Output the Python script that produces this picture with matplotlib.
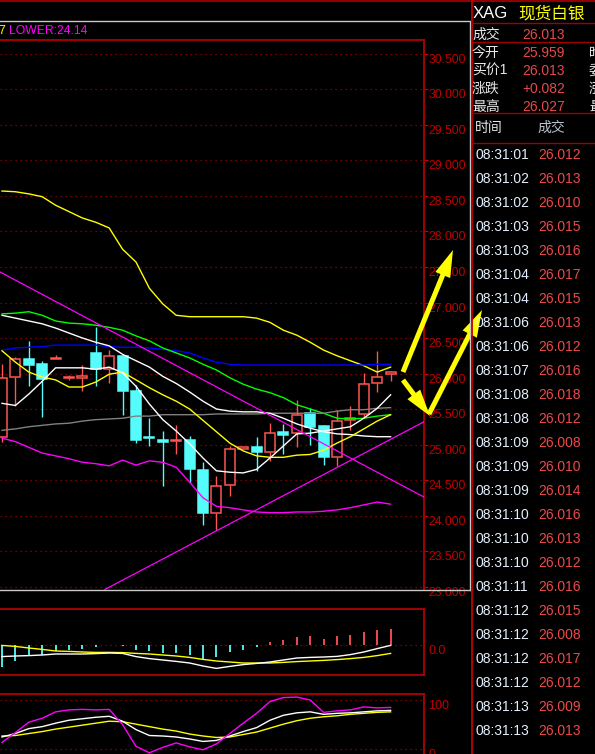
import numpy as np
import matplotlib
matplotlib.use("Agg")
import matplotlib.pyplot as plt
from matplotlib.patches import Rectangle, FancyArrow

plt.rcParams['font.family'] = ['Liberation Sans', 'Noto Sans CJK SC']

# ---- candles (oldest first) ----
opens  = [25.11, 25.95, 26.20, 26.13, 26.20, 25.93, 25.94, 26.29, 26.06, 26.24,
          25.76, 25.11, 25.07, 25.05, 25.06, 24.64, 24.03, 24.43, 24.94, 24.96,
          24.90, 25.17, 25.16, 25.44, 25.26, 24.83, 25.34, 25.43, 25.86, 25.99]
closes = [25.93, 26.21, 26.12, 25.92, 26.22, 25.95, 25.97, 26.06, 26.25, 25.76,
          25.07, 25.09, 25.03, 25.07, 24.66, 24.03, 24.41, 24.94, 24.96, 24.90,
          25.16, 25.14, 25.41, 25.25, 24.83, 25.33, 25.37, 25.85, 25.95, 26.02]
highs  = [26.14, 26.23, 26.46, 26.18, 26.26, 25.98, 26.12, 26.65, 26.33, 26.26,
          25.84, 25.38, 25.19, 25.27, 25.12, 24.76, 24.55, 24.98, 24.97, 25.10,
          25.30, 25.29, 25.63, 25.51, 25.28, 25.49, 25.54, 26.01, 26.32, 26.03]
lows   = [25.04, 25.54, 25.83, 25.39, 26.20, 25.91, 25.76, 25.83, 25.87, 25.42,
          25.02, 24.98, 24.42, 24.87, 24.46, 23.87, 23.79, 24.27, 24.94, 24.63,
          24.77, 24.86, 24.97, 24.99, 24.71, 24.70, 25.20, 25.37, 25.74, 25.89]

# ---- overlay lines on the price panel ----
upper_yellow = [28.57, 28.56, 28.53, 28.49, 28.37, 28.28, 28.19, 28.13, 28.05, 27.75,
                27.57, 27.20, 26.98, 26.82, 26.80, 26.80, 26.80, 26.80, 26.80, 26.78,
                26.72, 26.61, 26.54, 26.44, 26.33, 26.25, 26.18, 26.11, 26.02, 26.09]
lower_band = [25.09, 25.04, 24.96, 24.88, 24.84, 24.80, 24.75, 24.73, 24.70, 24.78,
              24.71, 24.77, 24.75, 24.68, 24.47, 24.25, 24.13, 24.11, 24.08, 24.05,
              24.04, 24.04, 24.05, 24.05, 24.06, 24.08, 24.11, 24.15, 24.19, 24.16]
ma_blue = [26.33, 26.36, 26.37, 26.38, 26.40, 26.40, 26.40, 26.40, 26.38, 26.37,
           26.37, 26.36, 26.34, 26.32, 26.29, 26.22, 26.16, 26.13, 26.12, 26.12,
           26.12, 26.12, 26.12, 26.12, 26.12, 26.12, 26.12, 26.12, 26.13, 26.13]
ma_green = [26.84, 26.85, 26.87, 26.82, 26.74, 26.71, 26.70, 26.68, 26.65, 26.61,
            26.53, 26.46, 26.36, 26.29, 26.22, 26.13, 26.05, 25.94, 25.85, 25.78,
            25.73, 25.66, 25.56, 25.50, 25.44, 25.37, 25.36, 25.37, 25.40, 25.42]
ma_white_long = [26.82, 26.78, 26.74, 26.70, 26.64, 26.57, 26.50, 26.44, 26.39, 26.27,
                 26.18, 26.09, 25.96, 25.86, 25.74, 25.61, 25.50, 25.47, 25.46, 25.46,
                 25.44, 25.37, 25.29, 25.23, 25.18, 25.15, 25.14, 25.12, 25.11, 25.11]
ma_white_short = [25.58, 25.55, 25.71, 25.89, 26.08, 26.08, 26.08, 26.06, 26.09, 26.01,
                  25.82, 25.57, 25.35, 25.19, 25.01, 24.81, 24.63, 24.61, 24.60, 24.65,
                  24.81, 24.98, 25.15, 25.16, 25.19, 25.22, 25.25, 25.37, 25.51, 25.70]
ma_yellow = [26.32, 26.16, 26.02, 25.95, 25.91, 25.81, 25.81, 25.88, 25.99, 26.02,
             25.91, 25.80, 25.70, 25.61, 25.50, 25.34, 25.18, 25.02, 24.91, 24.84,
             24.82, 24.82, 24.85, 24.86, 24.92, 25.02, 25.11, 25.22, 25.33, 25.42]
ma_gray = [25.20, 25.22, 25.25, 25.27, 25.29, 25.30, 25.33, 25.35, 25.36, 25.37,
           25.40, 25.40, 25.42, 25.42, 25.42, 25.42, 25.43, 25.43, 25.43, 25.43,
           25.44, 25.44, 25.44, 25.44, 25.44, 25.47, 25.49, 25.49, 25.51, 25.52]

# hand drawn trend lines (bar index, price)
trend_down_x, trend_down_y = [-0.15, 31.49], [27.43, 24.26]
trend_up_x, trend_up_y = [7.69, 31.49], [22.96, 25.32]

price_levels = [23.0, 23.5, 24.0, 24.5, 25.0, 25.5, 26.0, 26.5,
                27.0, 27.5, 28.0, 28.5, 29.0, 29.5, 30.0, 30.5]

# ---- MACD ----
macd_hist = [-0.110, -0.082, -0.057, -0.050, -0.032, -0.024, -0.019, -0.009, -0.001, -0.004,
             -0.024, -0.032, -0.042, -0.039, -0.050, -0.070, -0.062, -0.037, -0.024, -0.009,
             0.014, 0.024, 0.039, 0.044, 0.032, 0.044, 0.049, 0.064, 0.074, 0.082]
macd_dif = [-0.058, -0.055, -0.053, -0.050, -0.045, -0.045, -0.045, -0.043, -0.040, -0.042,
            -0.058, -0.068, -0.075, -0.082, -0.090, -0.105, -0.117, -0.107, -0.098, -0.092,
            -0.085, -0.075, -0.065, -0.062, -0.060, -0.057, -0.048, -0.035, -0.018, -0.002]
macd_dea = [-0.002, -0.007, -0.015, -0.022, -0.030, -0.032, -0.035, -0.037, -0.037, -0.038,
            -0.042, -0.045, -0.050, -0.055, -0.062, -0.072, -0.080, -0.085, -0.090, -0.090,
            -0.090, -0.087, -0.083, -0.080, -0.077, -0.073, -0.068, -0.062, -0.053, -0.042]

# ---- KDJ ----
kdj_k = [25, 32, 42, 46, 53, 59, 62, 65, 67, 57, 40, 28, 27, 25, 21,
         16, 18, 27, 36, 44, 59, 69, 74, 76, 71, 73, 74, 76, 78, 79]
kdj_d = [27, 28, 32, 36, 41, 45, 49, 53, 57, 56, 51, 46, 41, 37, 31,
         27, 24, 25, 30, 35, 43, 51, 58, 63, 66, 68, 71, 73, 75, 76]
kdj_j = [14, 34, 55, 63, 76, 80, 81, 80, 81, 50, 6, -7, 4, 13, 5,
         -1, 11, 32, 53, 73, 97, 105, 106, 100, 75, 78, 80, 86, 84, 85]

# ---- quote panel ----
info_labels = ['成交', '今开', '买价1', '涨跌', '最高']
info_values = ['26.013', '25.959', '26.013', '+0.082', '26.027']
info_side = ['', '昨收', '委比', '涨幅', '最低']
tick_times = ['08:31:01', '08:31:02', '08:31:02', '08:31:03', '08:31:03', '08:31:04',
              '08:31:04', '08:31:06', '08:31:06', '08:31:07', '08:31:08', '08:31:08',
              '08:31:09', '08:31:09', '08:31:09', '08:31:10', '08:31:10', '08:31:10',
              '08:31:11', '08:31:12', '08:31:12', '08:31:12', '08:31:12', '08:31:13',
              '08:31:13']
tick_prices = ['26.012', '26.013', '26.010', '26.015', '26.016', '26.017', '26.015',
               '26.013', '26.012', '26.016', '26.018', '26.012', '26.008', '26.010',
               '26.014', '26.016', '26.013', '26.012', '26.016', '26.015', '26.008',
               '26.017', '26.012', '26.009', '26.013']

W, H = 595, 754
RED = '#c00000'
GRID = '#a00000'
UP = '#ff5454'
DOWN = '#54fcfc'
YEL = '#ffff00'
MAG = '#ff00ff'
dots = (0, (1, 3))

fig = plt.figure(figsize=(W / 100, H / 100), dpi=100, facecolor='black')


def box(x0, y0, x1, y1):
    return [x0 / W, 1 - y1 / H, (x1 - x0) / W, (y1 - y0) / H]


def style_panel(a, spines):
    a.set_facecolor('black')
    for s in ['left', 'right', 'top', 'bottom']:
        a.spines[s].set_visible(s in spines)
        a.spines[s].set_color(RED)
        a.spines[s].set_linewidth(1.2)
    a.set_xticks([])
    a.set_yticks([])
    a.set_xlim(-2 / 13.4, 422 / 13.4)


idx = np.arange(len(opens))

# ================= price panel =================
ax = fig.add_axes(box(0, 40, 424, 590))
style_panel(ax, ['top', 'right'])
ax.set_ylim(22.951, 30.697)
ax.yaxis.tick_right()
ax.set_yticks(price_levels)
ax.tick_params(axis='y', colors=RED, length=3, labelright=False)
for lv in price_levels:
    ax.axhline(lv, color=GRID, ls=dots, lw=0.9)
    ax.text(1.01, lv, f'{lv:.3f}', transform=ax.get_yaxis_transform(),
            color=RED, fontsize=8.8, va='top', ha='left', clip_on=False)

bw = 0.74
for i in idx:
    o, h, l, c = opens[i], highs[i], lows[i], closes[i]
    if c >= o:
        ax.vlines(i, c, h, color=UP, lw=1)
        ax.vlines(i, l, o, color=UP, lw=1)
        ax.add_patch(Rectangle((i - bw / 2, o), bw, c - o, fc='black', ec=UP, lw=1.1, zorder=2))
    else:
        ax.vlines(i, l, h, color=DOWN, lw=1)
        ax.add_patch(Rectangle((i - bw / 2, c), bw, o - c, fc=DOWN, ec=DOWN, lw=1.1, zorder=2))

ax.plot(idx, upper_yellow, color=YEL, lw=1, zorder=3)
ax.plot(idx, lower_band, color=MAG, lw=1, zorder=3)
ax.plot(idx, ma_blue, color='#0000ff', lw=1, zorder=3)
ax.plot(idx, ma_green, color='#00ff00', lw=1, zorder=3)
ax.plot(idx, ma_gray, color='#808080', lw=1, zorder=3)
ax.plot(idx, ma_white_long, color='white', lw=1, zorder=3)
ax.plot(idx, ma_yellow, color=YEL, lw=1, zorder=3)
ax.plot(idx, ma_white_short, color='white', lw=1, zorder=3)
ax.plot(trend_down_x, trend_down_y, color=MAG, lw=0.9, zorder=3)
ax.plot(trend_up_x, trend_up_y, color=MAG, lw=0.9, zorder=3)

# ================= MACD panel =================
am = fig.add_axes(box(0, 609, 424, 675))
style_panel(am, ['top', 'right', 'bottom'])
am.set_ylim(-0.15, 0.18)
am.axhline(0, color=GRID, ls=dots, lw=0.9)
for i in idx:
    v = macd_hist[i]
    am.vlines(i, 0, v, color=UP if v > 0 else DOWN, lw=1.3)
am.plot(idx, macd_dea, color=YEL, lw=1)
am.plot(idx, macd_dif, color='white', lw=1)
am.text(1.01, 0.0, '0.0', transform=am.get_yaxis_transform(), color=RED,
        fontsize=9, va='top', ha='left', clip_on=False)

# ================= KDJ panel =================
ak = fig.add_axes(box(0, 694, 424, 754))
style_panel(ak, ['top', 'right'])
ak.set_ylim(-9.5, 112.2)
for lv in (0, 100):
    ak.axhline(lv, color=GRID, ls=dots, lw=0.9)
    ak.text(1.01, lv, str(lv), transform=ak.get_yaxis_transform(), color=RED,
            fontsize=9, va='top', ha='left', clip_on=False)
ak.plot(idx, kdj_d, color=YEL, lw=1)
ak.plot(idx, kdj_k, color='white', lw=1)
ak.plot(idx, kdj_j, color=MAG, lw=1)

# ================= frame, header and quote panel =================
ov = fig.add_axes([0, 0, 1, 1])
ov.set_xlim(0, W)
ov.set_ylim(H, 0)
ov.axis('off')
ov.patch.set_alpha(0)

ov.plot([0, W], [1, 1], color='#900000', lw=1.5)
ov.plot([0, 470, 470], [21, 21, 590], color='#c8c8c8', lw=1)
ov.plot([0, 470], [590, 590], color='#c8c8c8', lw=1)
ov.plot([471.5, 471.5], [0, H], color=RED, lw=1.3)
for yy in (23, 42, 113, 143):
    ov.plot([471.5, W], [yy, yy], color=GRID, lw=1)

ov.text(-2, 30.5, '7', color=YEL, fontsize=8.7, va='center', ha='left')
ov.text(9, 30.5, 'LOWER:24.14', color=MAG, fontsize=8.7, va='center', ha='left')

ov.text(473, 14, 'XAG', color='white', fontsize=12, va='center', ha='left')
ov.text(518, 14, '现货白银', color=YEL, fontsize=12, va='center', ha='left',
        family='Noto Sans CJK SC')

for k, (lab, val, side) in enumerate(zip(info_labels, info_values, info_side)):
    yy = 35 if k == 0 else 53 + 18 * (k - 1)
    ov.text(472, yy, lab, color='#e8e8e8', fontsize=10, va='center', ha='left')
    ov.text(522, yy, val, color='#e84848', fontsize=10, va='center', ha='left')
    if side:
        ov.text(589, yy, side, color='#e8e8e8', fontsize=10, va='center', ha='left')

ov.text(475, 128, '时间', color='#e8e8e8', fontsize=10, va='center', ha='left')
ov.text(537, 128, '成交', color='#b8c4d0', fontsize=10, va='center', ha='left')
for k, (t, p) in enumerate(zip(tick_times, tick_prices)):
    yy = 155 + 24 * k
    ov.text(475, yy, t, color='#e4f0ff', fontsize=10, va='center', ha='left')
    ov.text(538, yy, p, color='#f04848', fontsize=10, va='center', ha='left')

# yellow annotation arrows
arrow_kw = dict(color=YEL, width=5, head_width=16, head_length=27,
                length_includes_head=True, lw=0)
ov.add_patch(FancyArrow(403, 372, 50, -122, **arrow_kw))
ov.add_patch(FancyArrow(403, 380, 27, 36, **arrow_kw))
ov.add_patch(FancyArrow(429, 414, 53, -104, **arrow_kw))

fig.savefig('out.png', dpi=100, facecolor='black')
